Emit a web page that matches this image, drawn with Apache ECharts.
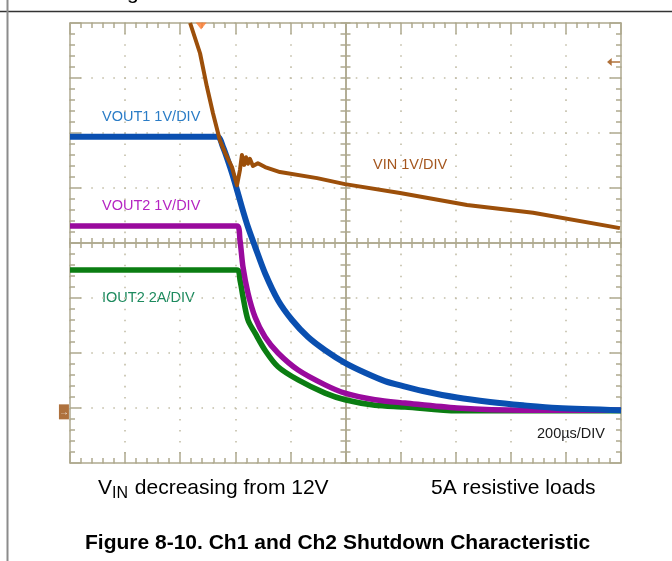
<!DOCTYPE html>
<html lang="en">
<head>
    <meta charset="UTF-8">
    <title>Ch1 and Ch2 Shutdown Characteristic</title>
    <style>
        html, body {
            margin: 0;
            padding: 0;
            background: white;
        }

        #fig {
            width: 672px;
            height: 561px;
        }
    </style>
    <script src="https://cdn.jsdelivr.net/npm/echarts@6/dist/echarts.min.js"></script>
</head>
<body>
<div id="fig"></div>
<script>
    // x: time in µs (200µs/DIV, 10 div), y: level in divisions from the bottom of the screen (8 div)
    const vinT = [436, 472, 497, 519, 544, 563, 588, 606, 617, 624, 632, 639, 646, 653, 664, 682, 708, 762, 897, 998, 1198, 1441, 1681, 1996];
    const vinD = [8.0, 7.45, 6.84, 6.36, 5.87, 5.64, 5.38, 5.05, 5.33, 5.6, 5.42, 5.56, 5.44, 5.53, 5.4, 5.45, 5.38, 5.29, 5.18, 5.07, 4.91, 4.69, 4.55, 4.27];

    const vout1T = [0, 534, 555, 581, 599, 624, 646, 672, 708, 755, 806, 864, 926, 998, 1071, 1143, 1216, 1281, 1405, 1525, 1644, 1768, 2000];
    const vout1D = [5.93, 5.93, 5.75, 5.38, 5.09, 4.65, 4.29, 3.93, 3.45, 2.96, 2.6, 2.29, 2.05, 1.82, 1.64, 1.49, 1.39, 1.31, 1.19, 1.11, 1.05, 1.0, 0.96];

    const vout2T = [0, 606, 617, 628, 646, 672, 708, 755, 828, 926, 998, 1107, 1216, 1405, 1644, 2000];
    const vout2D = [4.31, 4.31, 4.05, 3.56, 3.09, 2.65, 2.29, 2.0, 1.69, 1.42, 1.27, 1.15, 1.09, 1.0, 0.96, 0.96];

    const iout2T = [0, 606, 617, 628, 646, 672, 708, 755, 828, 926, 998, 1107, 1216, 1405, 2000];
    const iout2D = [3.51, 3.51, 3.33, 3.02, 2.6, 2.36, 2.05, 1.75, 1.51, 1.27, 1.15, 1.05, 1.02, 0.95, 0.95];

    // scope markers: trigger time, VIN trigger level, channel ground level
    const trigT = [476];
    const trigLevel = [[1973, 7.29]];
    const gndLevel = [[-22, 0.93]];

    const FONT = '"Liberation Sans", Arial, sans-serif';
    const FRAME = '#aea98f';
    const DOT = '#c4bfa8';

    function zip(t, d) {
        let out = [];
        for (let i = 0; i < t.length; i++) out.push([t[i], d[i]]);
        return out;
    }

    // frame edge axis (ticks inside, dotted grid)
    function edgeAxis(pos, min, max, interval, split) {
        return {
            gridIndex: 0, type: 'value', min: min, max: max, interval: interval, position: pos,
            axisLine: {show: true, onZero: false, lineStyle: {color: FRAME, width: 1.5}},
            axisTick: {show: true, inside: true, length: 11, lineStyle: {color: FRAME, width: 1.5}},
            minorTick: {show: true, splitNumber: 5, length: 5, lineStyle: {color: FRAME, width: 1.5}},
            axisLabel: {show: false},
            splitLine: {show: split, lineStyle: {color: DOT, width: 1.6, type: [1.6, 9.42], dashOffset: 0.8}},
            minorSplitLine: {show: false}
        };
    }

    // centre cross axis (ticks both ways, made of two axes)
    function crossAxis(pos, min, max, inside, zeroIdx) {
        return {
            gridIndex: 1, type: 'value', min: min, max: max, interval: 0.2, position: pos,
            axisLine: {show: true, onZero: true, onZeroAxisIndex: zeroIdx, lineStyle: {color: FRAME, width: 1.5}},
            axisTick: {show: true, inside: inside, length: 5, lineStyle: {color: FRAME, width: 1.5}},
            minorTick: {show: false},
            axisLabel: {show: false},
            splitLine: {show: false}
        };
    }

    function trace(name, t, d, color, width, z, smooth) {
        return {
            type: 'line', name: name, xAxisIndex: 0, yAxisIndex: 0,
            data: zip(t, d), symbol: 'none', showSymbol: false, silent: true,
            smooth: smooth,
            lineStyle: {color: color, width: width, join: 'round'}, z: z
        };
    }

    function label(text, x, y, color, size) {
        return {
            type: 'text', x: x, y: y, silent: true,
            style: {text: text, fill: color, fontSize: size, fontFamily: FONT, align: 'left', verticalAlign: 'middle'}
        };
    }

    let fig = echarts.init(document.getElementById('fig'), null, {renderer: 'canvas'});

    let option = {
        animation: false,
        backgroundColor: '#ffffff',
        grid: [
            {left: 70, top: 23, width: 551, height: 440, containLabel: false, outerBoundsMode: 'none'},
            {left: 70, top: 23, width: 551, height: 440, containLabel: false, outerBoundsMode: 'none'}
        ],
        xAxis: [
            edgeAxis('bottom', 0, 2000, 200, true),
            edgeAxis('top', 0, 2000, 200, false),
            crossAxis('bottom', -5, 5, true, 2),
            crossAxis('bottom', -5, 5, false, 2)
        ],
        yAxis: [
            edgeAxis('left', 0, 8, 1, true),
            edgeAxis('right', 0, 8, 1, false),
            crossAxis('left', -4, 4, true, 2),
            crossAxis('left', -4, 4, false, 2)
        ],
        series: [
            trace('IOUT2', iout2T, iout2D, '#0b7d12', 5.5, 3, 0.3),
            trace('VOUT2', vout2T, vout2D, '#990a9d', 5.5, 4, 0.3),
            trace('VOUT1', vout1T, vout1D, '#0a4fb0', 6, 5, 0.3),
            trace('VIN', vinT, vinD, '#9c4f0a', 4, 6, false),
            {
                type: 'scatter', xAxisIndex: 0, yAxisIndex: 0, silent: true, clip: false, z: 7,
                data: [[trigT[0], 8]], symbol: 'triangle', symbolRotate: 180,
                symbolSize: [11, 7], symbolOffset: [0, 3], itemStyle: {color: '#ff7b2e'}
            },
            {
                type: 'scatter', xAxisIndex: 0, yAxisIndex: 0, silent: true, clip: false, z: 7,
                data: trigLevel, symbol: 'path://M0,4 L5,0 L5,3.2 L14,3.2 L14,4.8 L5,4.8 L5,8 Z',
                symbolSize: [13, 8], itemStyle: {color: '#9c4f0a'}
            },
            {
                type: 'scatter', xAxisIndex: 0, yAxisIndex: 0, silent: true, clip: false, z: 7,
                data: gndLevel, symbol: 'rect', symbolSize: [10, 15], itemStyle: {color: '#9a4d0c'},
                label: {show: true, position: 'inside', formatter: '→', color: '#ffffff', fontSize: 10, fontWeight: 'bold', fontFamily: FONT}
            }
        ],
        graphic: [
            {type: 'line', silent: true, shape: {x1: 0, y1: 11.5, x2: 672, y2: 11.5}, style: {stroke: '#333333', lineWidth: 1.5}},
            {type: 'line', silent: true, shape: {x1: 7.5, y1: 0, x2: 7.5, y2: 561}, style: {stroke: '#8c8c8c', lineWidth: 2}},
            label('g', 127, -7, '#000000', 21),
            label('VOUT1 1V/DIV', 102, 117, '#2a7cc6', 14.5),
            label('VOUT2 1V/DIV', 102, 206, '#b524c2', 14.5),
            label('IOUT2 2A/DIV', 102, 298, '#1d8a5e', 14.5),
            label('VIN 1V/DIV', 373, 165, '#a4561e', 14.5),
            label('200µs/DIV', 537, 434, '#1a1a1a', 14.5),
            // V_IN with subscript
            label('V', 98, 488, '#000000', 21),
            label('IN', 112, 494, '#000000', 16),
            label(' decreasing from 12V', 129, 488, '#000000', 21),
            label('5A resistive loads', 431, 488, '#000000', 21),
            {
                type: 'text', x: 85, y: 543, silent: true,
                style: {
                    text: 'Figure 8-10. Ch1 and Ch2 Shutdown Characteristic', fill: '#000000',
                    fontSize: 21, fontWeight: 'bold', fontFamily: FONT, align: 'left', verticalAlign: 'middle'
                }
            }
        ]
    };

    fig.setOption(option);
</script>
</body>
</html>
